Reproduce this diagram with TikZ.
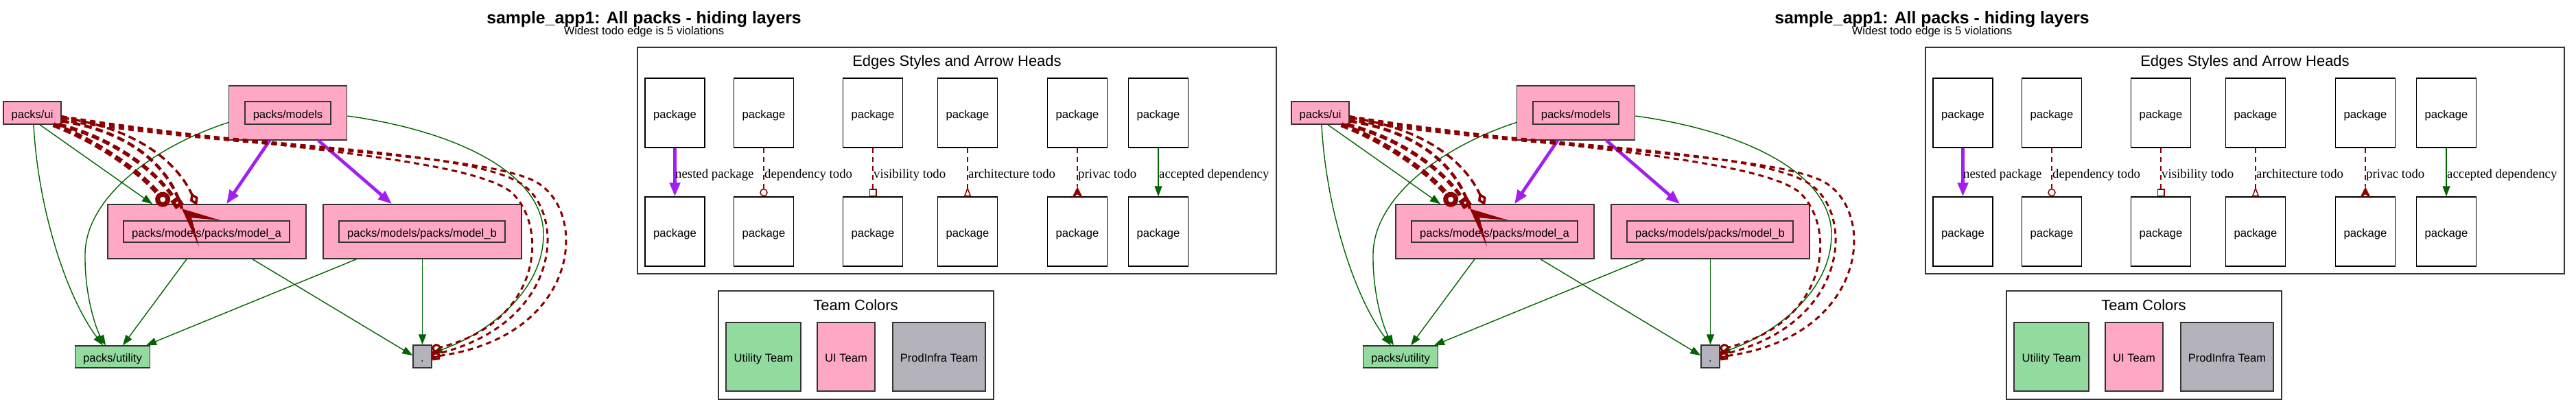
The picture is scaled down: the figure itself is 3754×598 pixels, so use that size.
\documentclass[tikz,border=0pt]{standalone}
\usepackage{fontspec}
\usetikzlibrary{arrows.meta}
\newfontfamily\gvsans{Liberation Sans}
\newfontfamily\gvserif{Liberation Serif}
\newcommand\GVnode{\gvsans\fontsize{16.6pt}{19pt}\selectfont}
\newcommand\GVedge{\gvserif\fontsize{18.8pt}{21pt}\selectfont}
\newcommand\GVclus{\gvsans\fontsize{22pt}{25pt}\selectfont}
\newcommand\GVtitle{\gvsans\bfseries\fontsize{24.8pt}{28pt}\selectfont}
\definecolor{gvpink}{RGB}{255,168,197}
\definecolor{gvgreen}{RGB}{147,218,159}
\definecolor{gvgray}{RGB}{180,179,188}
\definecolor{gvdred}{RGB}{139,0,0}
\definecolor{gvdgreen}{RGB}{0,100,0}
\definecolor{gvpurple}{RGB}{160,32,240}
\definecolor{gvstroke}{RGB}{51,51,51}
\tikzset{
  box/.style={draw=gvstroke, line width=1.5pt, inner sep=0pt, rectangle, font=\GVnode, text height=15.5pt, text depth=0pt},
  pbox/.style={box, fill=gvpink},
  legbox/.style={box, draw=black, minimum width=87pt, minimum height=101pt},
  clusbox/.style={draw=gvstroke, line width=1.5pt, inner sep=0pt, rectangle},
  clustitle/.style={anchor=base, inner sep=0pt, font=\GVclus},
  elbl/.style={anchor=base west, inner sep=0pt, font=\GVedge},
  depedge/.style={draw=gvdgreen, line width=1.4pt, -{Triangle[length=15pt,width=11pt]}},
  nestedge/.style={draw=gvpurple, line width=4.7pt, -{Triangle[length=20pt,width=15pt]}},
  todoedge/.style={draw=gvdred, line width=1.5pt, dash pattern=on 7pt off 6pt},
  thicktodo/.style={draw=gvdred, dash pattern=on 11pt off 6pt},
  midtodo/.style={draw=gvdred, line width=3pt, dash pattern=on 8pt off 6pt},
}
\newcommand\onecopy{%
  % titles
  \node[anchor=base, inner sep=0pt, font=\GVtitle] (title) at (938.5,34) {sample\_app1: All packs - hiding layers};
  \node[anchor=base, inner sep=0pt, font=\GVnode] (sub) at (938.5,50.5) {Widest todo edge is 5 violations};
  % main graph nodes
  \node[pbox, minimum width=84pt, minimum height=33pt] (ui) at (47,164.5) {packs/ui};
  \node[pbox, minimum width=172pt, minimum height=79pt] (models) at (419.5,164.5) {};
  \node[pbox, minimum width=125pt, minimum height=33pt] (modelsIn) at (419.5,164.5) {packs/models};
  \node[pbox, minimum width=289pt, minimum height=79pt] (ma) at (301.5,337.5) {};
  \node[pbox, minimum width=242pt, minimum height=31pt] (maIn) at (301,337.5) {packs/models/packs/model\_a};
  \node[pbox, minimum width=289pt, minimum height=79pt] (mb) at (615.5,337.5) {};
  \node[pbox, minimum width=242pt, minimum height=31pt] (mbIn) at (615,337.5) {packs/models/packs/model\_b};
  \node[box, fill=gvgreen, minimum width=109pt, minimum height=32pt] (util) at (164,520) {packs/utility};
  \node[box, fill=gvgray, minimum width=27pt, minimum height=33pt] (dot) at (615.5,519.5) {.};
  % legend cluster
  \node[clusbox, minimum width=931pt, minimum height=330pt] (edgecl) at (1394.5,234) {};
  \node[clustitle] (edgeclT) at (1394.5,96.5) {Edges Styles and Arrow Heads};
  \node[legbox] (lp1) at (983.5,164.5) {package};
  \node[legbox] (lp2) at (1113,164.5) {package};
  \node[legbox] (lp3) at (1272,164.5) {package};
  \node[legbox] (lp4) at (1410,164.5) {package};
  \node[legbox] (lp5) at (1570,164.5) {package};
  \node[legbox] (lp6) at (1688,164.5) {package};
  \node[legbox] (lq1) at (983.5,337.5) {package};
  \node[legbox] (lq2) at (1113,337.5) {package};
  \node[legbox] (lq3) at (1272,337.5) {package};
  \node[legbox] (lq4) at (1410,337.5) {package};
  \node[legbox] (lq5) at (1570,337.5) {package};
  \node[legbox] (lq6) at (1688,337.5) {package};
  \draw[nestedge] (lp1.south) -- (lq1.north);
  \draw[todoedge, -{Circle[open,length=11.5pt,width=11.5pt]}] (lp2.south) -- (lq2.north);
  \draw[todoedge, -{Square[open,length=11pt,width=11pt]}] (lp3.south) -- (lq3.north);
  \draw[todoedge, -{Triangle[open,reversed,length=14pt,width=10pt]}] (lp4.south) -- (lq4.north);
  \draw[todoedge] (lp5.south) -- ([yshift=14pt]lq5.north);
  \fill[gvdred] ([yshift=14pt]lq5.north) -- ([xshift=8.5pt,yshift=-3pt]lq5.north) -- ([yshift=3pt]lq5.north) -- ([xshift=-8.5pt,yshift=-3pt]lq5.north) -- cycle;
  \draw[depedge] (lp6.south) -- (lq6.north);
  \node[elbl] (l1) at (984,259) {nested package};
  \node[elbl] (l2) at (1114,259) {dependency todo};
  \node[elbl] (l3) at (1273,259) {visibility todo};
  \node[elbl] (l4) at (1411,259) {architecture todo};
  \node[elbl] (l5) at (1571,259) {privac todo};
  \node[elbl] (l6) at (1689,259) {accepted dependency};
  % team colors cluster
  \node[clusbox, minimum width=401pt, minimum height=158pt] (teamcl) at (1247.5,503) {};
  \node[clustitle] (teamclT) at (1247,452.3) {Team Colors};
  \node[box, fill=gvgreen, minimum width=109pt, minimum height=100pt] (tu) at (1112.5,520) {Utility Team};
  \node[box, fill=gvpink, minimum width=84pt, minimum height=100pt] (tui) at (1233,520) {UI Team};
  \node[box, fill=gvgray, minimum width=135pt, minimum height=100pt] (tpi) at (1368.5,520) {ProdInfra Team};
  % accepted dependencies
  \draw[depedge] ([xshift=2pt]ui.south) .. controls (55,300) and (95,430) .. ([xshift=-14pt]util.north);
  \draw[depedge] ([xshift=11pt]ui.south) -- ([xshift=-79.5pt]ma.north);
  \draw[depedge] ([yshift=-14pt]models.west) .. controls (220,215) and (125,290) .. (124,370) .. controls (123,430) and (140,480) .. ([xshift=-10pt]util.north);
  \draw[depedge] ([yshift=-4.5pt]models.east) .. controls (660,190) and (790,250) .. (792,340) .. controls (793,430) and (700,490) .. ([yshift=5pt]dot.east);
  \draw[depedge] ([xshift=-29.5pt]ma.south) -- ([xshift=15pt]util.north);
  \draw[depedge] ([xshift=66.5pt]ma.south) -- ([yshift=1.5pt]dot.west);
  \draw[depedge] ([xshift=-96pt]mb.south) -- ([xshift=49pt]util.north);
  \draw[depedge] (mb.south) -- (dot.north);
  % nested packages
  \draw[nestedge] ([xshift=-26.5pt]models.south) -- ([xshift=28.5pt]ma.north);
  \draw[nestedge] ([xshift=44.5pt]models.south) -- ([xshift=-44.5pt]mb.north);
  % todo edges ui -> model_a
  \draw[thicktodo, line width=7pt, -{Circle[open,length=22pt,width=22pt]}] ([xshift=-12pt]ui.south east) .. controls (140,205) and (205,250) .. ([xshift=-57.5pt,yshift=-2pt]ma.north);
  \draw[thicktodo, line width=5.5pt, -{Square[open,length=14pt,width=14pt]}] ([xshift=-4pt]ui.south east) .. controls (160,200) and (225,245) .. ([xshift=-39.5pt,yshift=-4pt]ma.north);
  \draw[thicktodo, line width=4.5pt] ([yshift=-12pt]ui.east) .. controls (180,190) and (245,235) .. ([xshift=-36.5pt,yshift=-7pt]ma.north);
  \fill[gvdred] ([xshift=-36.5pt,yshift=-7pt]ma.north) -- ([xshift=20.5pt,yshift=-24pt]ma.north) -- ([xshift=-22.5pt,yshift=-20pt]ma.north) -- ([xshift=-11.5pt,yshift=-62pt]ma.north) -- cycle;
  \draw[thicktodo, line width=3.5pt, -{Diamond[open,length=20pt,width=13pt]}] ([yshift=-7pt]ui.east) .. controls (190,185) and (255,230) .. ([xshift=-14.5pt,yshift=-2pt]ma.north);
  % todo edges ui -> .
  \draw[midtodo, -{Circle[open,length=13pt,width=13pt]}] ([yshift=-5pt]ui.east) .. controls (350,212) and (680,228) .. (745,280) .. controls (800,330) and (790,470) .. ([yshift=10.5pt]dot.east);
  \draw[midtodo, -{Square[open,length=11pt,width=11pt]}] ([yshift=-8pt]ui.east) .. controls (350,214) and (680,216) .. (760,268) .. controls (825,310) and (820,470) .. ([yshift=2pt]dot.east);
  \draw[midtodo, -{Square[open,length=11pt,width=11pt]}] ([yshift=-11pt]ui.east) .. controls (350,216) and (685,222) .. (775,262) .. controls (860,300) and (850,490) .. ([yshift=-0.5pt]dot.east);
}
\begin{document}
\begin{tikzpicture}[x=1pt,y=-1pt]
  \fill[white] (0,0) rectangle (3754,598);
  \useasboundingbox (0,0) rectangle (3754,598);
  \begin{scope}[name prefix=L-]
    \onecopy
  \end{scope}
  \begin{scope}[xshift=1877pt, name prefix=R-]
    \onecopy
  \end{scope}
\end{tikzpicture}
\end{document}
